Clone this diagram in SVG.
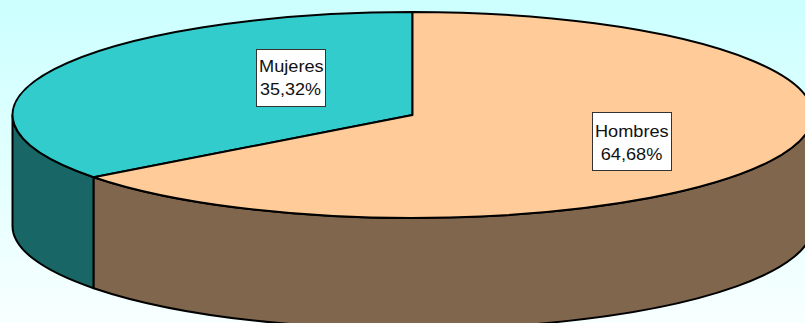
<svg xmlns="http://www.w3.org/2000/svg" width="805" height="323" viewBox="0 0 805 323">
  <defs>
    <linearGradient id="bg" x1="0" y1="0" x2="0" y2="1">
      <stop offset="0" stop-color="#ccffff"/>
      <stop offset="1" stop-color="#f8ffff"/>
    </linearGradient>
  </defs>
  <style>
    .edge { stroke: #000; stroke-width: 2; stroke-linejoin: round; }
    .lbl { fill: #fff; stroke: #333; stroke-width: 1; }
    .txt { font-family: "Liberation Sans", Arial, sans-serif; font-size: 16.5px; fill: #111; }
  </style>
  <rect x="0" y="0" width="805" height="323" fill="url(#bg)"/>
  <g id="slice-mujeres-side">
    <path class="edge" fill="#196666" d="M 12.5,115 A 400 103 0 0 0 93.7,177.2 L 93.7,288.2 A 400 103 0 0 1 12.5,226 Z"/>
  </g>
  <g id="slice-hombres-side">
    <path class="edge" fill="#7f664c" d="M 93.7,177.2 A 400 103 0 0 0 812.5,115 L 812.5,226 A 400 103 0 0 1 93.7,288.2 Z"/>
  </g>
  <g id="slice-mujeres">
    <path class="edge" fill="#33cccc" d="M 412.5,115 L 412.5,12 A 400 103 0 0 0 93.7,177.2 Z"/>
  </g>
  <g id="slice-hombres">
    <path class="edge" fill="#ffcc99" d="M 412.5,115 L 93.7,177.2 A 400 103 0 1 0 412.5,12 Z"/>
  </g>
  <g id="label-mujeres">
    <rect class="lbl" x="256.5" y="49.5" width="69" height="57"/>
    <text class="txt" x="259" y="72.3" textLength="64.7" lengthAdjust="spacingAndGlyphs">Mujeres</text>
    <text class="txt" x="260" y="95" textLength="61" lengthAdjust="spacingAndGlyphs">35,32%</text>
  </g>
  <g id="label-hombres">
    <rect class="lbl" x="592.5" y="112.5" width="79" height="58"/>
    <text class="txt" x="595" y="136.7" textLength="73.7" lengthAdjust="spacingAndGlyphs">Hombres</text>
    <text class="txt" x="600.7" y="160" textLength="61.6" lengthAdjust="spacingAndGlyphs">64,68%</text>
  </g>
</svg>
